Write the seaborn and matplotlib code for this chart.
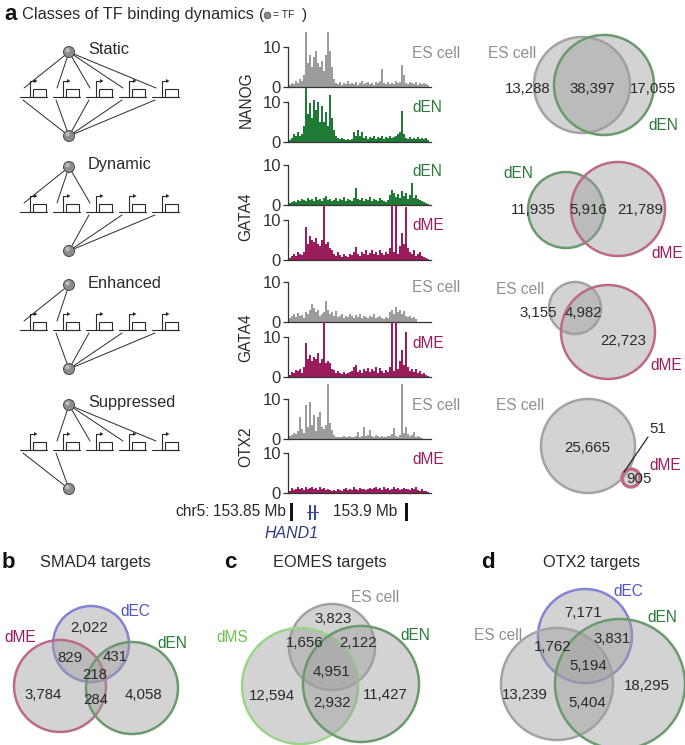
import numpy as np
import pandas as pd
import matplotlib
matplotlib.use('Agg')
import matplotlib.pyplot as plt
from matplotlib.patches import Circle, Rectangle, Polygon
import seaborn as sns

sns.set_style('white')
plt.rcParams['font.family'] = ['Liberation Sans', 'DejaVu Sans']

# ---------------- data ----------------
# signal tracks (70 bins across chr5:153.849-153.910 Mb)
nanog_es = [0.5, 1.0, 0.8, 1.5, 1.0, 2.0, 1.5, 3.0, 13.7, 6.0,
            8.0, 5.0, 7.5, 9.0, 6.0, 5.0, 6.5, 4.0, 8.0, 13.8,
            9.0, 5.0, 2.0, 1.0, 0.8, 1.2, 0.6, 1.0, 0.8, 1.5,
            0.7, 1.0, 0.8, 1.2, 0.6, 1.0, 1.5, 0.8, 1.0, 1.2,
            0.8, 1.0, 0.6, 1.2, 1.0, 1.5, 4.5, 1.0, 0.8, 1.2,
            0.7, 1.0, 0.8, 1.5, 1.0, 1.2, 5.5, 3.0, 1.0, 0.8,
            1.2, 1.0, 0.8, 1.2, 0.6, 1.0, 0.8, 1.0, 0.7, 0.5]
nanog_den = [0.5, 1.0, 2.0, 1.5, 2.5, 1.5, 2.0, 4.0, 13.4, 7.0,
             9.7, 6.0, 10.5, 8.0, 10.0, 5.0, 9.0, 5.0, 7.5, 4.0,
             11.7, 6.0, 3.0, 1.5, 1.0, 0.8, 1.0, 0.8, 0.6, 0.8,
             0.5, 0.8, 2.5, 1.5, 3.0, 1.5, 2.5, 1.0, 1.5, 0.8,
             1.2, 1.0, 1.5, 0.8, 1.2, 1.0, 1.5, 0.8, 1.2, 1.0,
             1.5, 1.0, 1.2, 1.5, 2.0, 2.5, 7.8, 2.0, 1.0, 0.8,
             1.2, 0.8, 1.0, 0.8, 1.2, 0.8, 1.0, 0.8, 1.0, 0.5]
gata4_den = [0.5, 0.8, 1.0, 0.8, 1.2, 1.0, 1.5, 1.2, 1.0, 1.8,
             1.2, 1.5, 1.0, 2.0, 1.2, 1.5, 1.0, 1.8, 2.2, 1.2,
             1.5, 1.0, 1.2, 1.8, 1.0, 1.5, 1.2, 2.0, 1.0, 1.5,
             1.2, 1.0, 1.8, 4.2, 1.5, 1.2, 1.8, 1.0, 1.5, 1.2,
             2.0, 1.0, 1.5, 1.2, 1.0, 1.8, 1.2, 1.0, 0.8, 1.2,
             2.5, 3.7, 3.0, 2.0, 2.8, 1.8, 3.5, 2.2, 3.0, 1.5,
             2.5, 5.4, 1.8, 2.5, 1.5, 1.2, 1.0, 0.8, 0.5, 0.3]
gata4_dme = [0.5, 1.0, 1.5, 1.0, 2.0, 1.5, 1.2, 2.0, 8.3, 4.0,
             6.0, 5.0, 4.5, 5.5, 4.0, 3.5, 5.0, 16.0, 4.0, 4.5,
             3.0, 2.5, 1.5, 1.0, 2.0, 1.2, 0.8, 1.5, 1.0, 0.8,
             1.5, 1.2, 2.0, 3.3, 1.5, 1.0, 2.0, 1.5, 2.5, 1.2,
             1.8, 2.5, 1.5, 2.0, 1.2, 2.5, 1.8, 1.2, 2.0, 1.5,
             3.0, 16.0, 2.0, 16.0, 1.5, 3.5, 6.7, 4.0, 13.3, 3.0,
             2.0, 1.5, 2.5, 1.0, 1.5, 2.0, 1.0, 0.8, 0.5, 0.3]
gata4_es = [1.0, 1.5, 2.0, 1.2, 2.2, 1.5, 1.8, 1.0, 2.5, 2.0,
            3.0, 4.5, 3.5, 2.5, 3.0, 1.5, 2.0, 2.5, 5.3, 3.0,
            2.0, 2.5, 1.5, 2.8, 1.2, 1.5, 2.0, 1.0, 1.5, 1.2,
            2.0, 1.5, 1.0, 1.8, 1.2, 2.0, 1.0, 1.5, 1.2, 1.0,
            1.5, 1.2, 2.0, 1.0, 1.2, 1.5, 1.0, 0.8, 1.2, 1.0,
            2.5, 3.0, 2.0, 3.8, 2.5, 3.0, 2.0, 2.8, 1.5, 1.2,
            1.5, 1.0, 1.2, 0.8, 0.0, 0.0, 0.0, 0.0, 0.0, 0.0]
gata4_dme2 = [0.5, 1.2, 1.0, 1.8, 1.5, 2.0, 1.0, 2.5, 8.4, 4.5,
              5.5, 4.0, 5.0, 4.5, 6.0, 3.5, 4.5, 16.0, 3.5, 4.0,
              3.5, 2.0, 1.8, 1.0, 1.5, 1.0, 0.8, 1.2, 0.8, 1.0,
              1.2, 1.5, 2.5, 3.0, 1.2, 1.8, 1.0, 2.0, 1.5, 2.2,
              1.2, 2.0, 1.5, 2.5, 1.0, 2.2, 1.5, 1.0, 1.8, 1.2,
              2.5, 16.0, 1.5, 16.0, 2.0, 4.0, 6.7, 3.0, 11.3, 2.5,
              1.5, 2.0, 1.2, 2.0, 1.0, 1.5, 0.8, 1.0, 0.5, 0.3]
otx2_es = [0.8, 1.0, 1.5, 1.2, 2.0, 5.6, 2.5, 1.5, 8.5, 3.0,
           9.3, 3.5, 6.0, 2.0, 5.6, 6.8, 3.0, 2.5, 3.5, 16.0,
           4.0, 2.2, 1.0, 0.5, 0.6, 0.4, 0.5, 0.7, 0.5, 0.6,
           0.8, 0.5, 0.6, 0.8, 1.8, 0.6, 0.8, 3.0, 0.7, 1.0,
           2.3, 0.8, 0.6, 1.0, 0.7, 0.5, 0.8, 0.6, 0.5, 0.7,
           0.8, 1.2, 2.7, 0.8, 0.6, 1.0, 16.0, 1.5, 3.0, 1.2,
           0.8, 1.0, 1.8, 0.6, 0.8, 0.5, 0.3, 0.0, 0.0, 0.0]
otx2_dme = [0.6, 1.2, 0.8, 1.0, 1.4, 0.9, 1.2, 0.8, 1.5, 1.0,
            1.3, 1.6, 1.0, 1.2, 0.8, 1.4, 1.0, 1.2, 0.7, 1.0,
            0.8, 0.5, 0.7, 0.6, 1.0, 0.8, 0.6, 0.9, 1.2, 0.7,
            1.0, 0.8, 1.5, 1.0, 0.8, 1.2, 0.9, 1.1, 0.8, 1.0,
            1.3, 0.9, 1.2, 1.5, 1.0, 1.3, 0.8, 1.6, 1.0, 1.2,
            0.8, 1.0, 1.4, 0.9, 1.2, 0.8, 1.0, 1.3, 0.9, 1.1,
            0.7, 1.2, 1.0, 1.4, 0.8, 0.6, 0.9, 0.5, 0.4, 0.3]

tracks = [nanog_es, nanog_den, gata4_den, gata4_dme,
          gata4_es, gata4_dme2, otx2_es, otx2_dme]
track_cells = ['ES cell', 'dEN', 'dEN', 'dME', 'ES cell', 'dME', 'ES cell', 'dME']
track_tfs = ['NANOG', 'GATA4', 'GATA4', 'OTX2']
classes = ['Static', 'Dynamic', 'Enhanced', 'Suppressed']

# venn counts, panel a (left only, overlap, right only)
venn_a_counts = [[13288, 38397, 17055],
                 [11935, 5916, 21789],
                 [3155, 4982, 22723],
                 [25665, 51, 905]]
venn_a_sets = [['ES cell', 'dEN'], ['dEN', 'dME'], ['ES cell', 'dME'], ['ES cell', 'dME']]

# panels b-d
smad4_sets = ['dEC', 'dME', 'dEN']
smad4_counts = [2022, 829, 431, 218, 3784, 284, 4058]
eomes_sets = ['ES cell', 'dMS', 'dEN']
eomes_counts = [3823, 1656, 2122, 4951, 12594, 2932, 11427]
otx2_sets = ['dEC', 'ES cell', 'dEN']
otx2_counts = [7171, 1762, 3831, 5194, 13239, 5404, 18295]

# ---------------- styles ----------------
cell_col = {'ES cell': '#8f8f8f', 'dEN': '#2a7a3b', 'dME': '#9b1c5c',
            'dEC': '#5156c4', 'dMS': '#6cc24a'}
edge_col = {'ES cell': '#a3a3a3', 'dEN': '#6a9a6e', 'dME': '#bd6a88',
            'dEC': '#8285d6', 'dMS': '#9ad68a'}
fill_col = (0.62, 0.62, 0.62, 0.45)
ink = '#2a2a2a'
fs_lab = 11.2     # cell labels, track names
fs_num = 10.8     # venn numbers

W, H = 685, 745
fig = plt.figure(figsize=(W / 100, H / 100), dpi=100)
bg = fig.add_axes([0, 0, 1, 1])
bg.set_xlim(0, W)
bg.set_ylim(H, 0)
bg.axis('off')


def px_axes(x0, y0, x1, y1):
    return fig.add_axes([x0 / W, 1 - y1 / H, (x1 - x0) / W, (y1 - y0) / H])


def mb(px):
    # pixel -> genomic position (153.85 Mb bar at 292 px, 0.05 Mb = 115 px)
    return 153.85 + (px - 292) / 115 * 0.05


# ---------------- panel a header ----------------
bg.text(4, 15, 'a', fontsize=16, fontweight='bold', va='center', color='#111')
bg.text(22, 15, 'Classes of TF binding dynamics', fontsize=11.8, va='center', color=ink)
bg.text(259, 15, '(', fontsize=11, va='center', color=ink)
bg.add_patch(Circle((267.5, 15.5), 3.3, fc='#8a8a8a', ec='#555', lw=0.6))
bg.text(273, 15.5, '= TF', fontsize=7.5, va='center', color=ink)
bg.text(302, 15, ')', fontsize=11, va='center', color=ink)


# ---------------- binding diagrams ----------------
def node(x, y):
    bg.add_patch(Circle((x, y), 5.5, fc='#8c8c8c', ec='#4a4a4a', lw=0.7, zorder=5))
    bg.add_patch(Circle((x - 1.5, y - 1.8), 2.2, fc='#c9c9c9', ec='none', alpha=0.8, zorder=6))


def gene(x0, base):
    bg.plot([x0, x0 + 27], [base, base], color=ink, lw=0.8)
    bg.plot([x0 + 10, x0 + 10, x0 + 14], [base, base - 16, base - 16], color=ink, lw=0.8)
    bg.add_patch(Polygon([(x0 + 14, base - 18), (x0 + 17.5, base - 16), (x0 + 14, base - 14)],
                         closed=True, fc=ink, ec='none'))
    bg.add_patch(Rectangle((x0 + 13, base - 8), 13, 8, fill=False, ec=ink, lw=0.8))


row_tops = [52, 167, 285, 405]
top_links = [[0, 1, 2, 3, 4], [0, 1, 2], [0, 1], [1, 2, 3, 4]]
bottom_links = [[0, 1, 2, 3, 4], [2, 3, 4], [1, 2, 3, 4], [0, 1]]
node_x = 69
for r, top in enumerate(row_tops):
    base = top + 45
    bottom = top + 84
    gene_x = [20 + 33 * g for g in range(5)]
    for gx in gene_x:
        gene(gx, base)
    for g in top_links[r]:
        bg.plot([node_x, gene_x[g] + 4], [top, base - 9], color=ink, lw=0.7)
    for g in bottom_links[r]:
        bg.plot([node_x, gene_x[g] + 3], [bottom, base + 3], color=ink, lw=0.7)
    node(node_x, top)
    node(node_x, bottom)
    bg.text(88, top - 2, classes[r], fontsize=11.8, va='center', color=ink)

# ---------------- signal tracks ----------------
track_base = [87, 142, 205, 260, 322, 377, 439, 493]
n_bins = len(nanog_es)
edges = np.linspace(mb(289), mb(429), n_bins + 1)
centers = (edges[:-1] + edges[1:]) / 2
track_fill = {'ES cell': '#9c9c9c', 'dEN': '#1f7a35', 'dME': '#9b1c5c'}

for i, vals in enumerate(tracks):
    base = track_base[i]
    ax = px_axes(288, base - 55, 431, base)
    ax.patch.set_alpha(0)
    sig = pd.DataFrame({'pos': centers, 'signal': vals})
    sns.histplot(data=sig, x='pos', weights='signal', bins=n_bins,
                 binrange=(mb(289), mb(429)), element='step', fill=True,
                 color=track_fill[track_cells[i]], alpha=1, linewidth=0, ax=ax)
    ax.set_xlim(mb(288), mb(431))
    ax.set_ylim(0, 13.75)
    ax.set_xlabel('')
    ax.set_ylabel('')
    ax.set_xticks([])
    ax.set_yticks([0, 10])
    ax.tick_params(axis='y', left=True, length=3.5, width=0.9, pad=1.5,
                   labelsize=12, colors='#333')
    sns.despine(ax=ax)
    ax.spines['left'].set_bounds(0, 10)
    for s in ('left', 'bottom'):
        ax.spines[s].set_color('#333')
        ax.spines[s].set_linewidth(0.9)
    bg.text(412, base - 34, track_cells[i], fontsize=fs_lab, va='center',
            color=cell_col[track_cells[i]])

tf_label_y = [100, 217, 338, 447]
for tf, y in zip(track_tfs, tf_label_y):
    bg.text(246, y, tf, fontsize=fs_lab, rotation=90, ha='center', va='center', color=ink)

# coordinate row
bg.text(210, 512, 'chr5:', fontsize=fs_lab, ha='right', va='center', color=ink)
bg.text(213, 512, '153.85 Mb', fontsize=fs_lab, va='center', color=ink)
bg.text(333, 512, '153.9 Mb', fontsize=fs_lab, va='center', color=ink)
for bx in (292, 407):
    bg.add_patch(Rectangle((bx - 1.5, 503), 3, 18, fc='#111', ec='none'))
bg.plot([307, 318], [512, 512], color='#3a4a9a', lw=0.8)
for hx in (309, 314):
    bg.add_patch(Rectangle((hx, 505), 2.2, 15, fc='#3a4a9a', ec='none'))
bg.text(292, 533, 'HAND1', fontsize=11.4, style='italic', ha='center', va='center',
        color='#2c3a85')


# ---------------- venn diagrams ----------------
def circle(x, y, r, s, lw=1.8):
    bg.add_patch(Circle((x, y), r, fc=fill_col, ec=edge_col[s], lw=lw))


venn_a_circles = [[(582, 85, 48), (604, 85, 50)],
                  [(566, 210, 38), (618, 209, 47)],
                  [(575, 308, 26), (608, 332, 47)],
                  [(588, 446, 47), (631, 478, 9)]]
venn_a_num_pos = [[(528, 89), (592, 89), (653, 89)],
                  [(533, 210), (588, 210), (640, 210)],
                  [(538, 313), (583, 313), (623, 341)],
                  [(587, 448), (658, 429), (639, 479)]]
venn_a_lab_pos = [[(512, 53), (663, 125)],
                  [(518, 173), (667, 253)],
                  [(520, 290), (666, 366)],
                  [(520, 406), (665, 465)]]

for k in range(4):
    for (x, y, r), s in zip(venn_a_circles[k], venn_a_sets[k]):
        circle(x, y, r, s, lw=2.4 if r < 15 else 1.8)
    for n, (x, y) in zip(venn_a_counts[k], venn_a_num_pos[k]):
        bg.text(x, y, f'{n:,}', fontsize=fs_num, ha='center', va='center', color=ink)
    for s, (x, y) in zip(venn_a_sets[k], venn_a_lab_pos[k]):
        bg.text(x, y, s, fontsize=fs_lab, ha='center', va='center', color=cell_col[s])
bg.plot([648, 624], [437, 472], color='#222', lw=0.9)

panels = [
    ('b', 'SMAD4 targets', (8, 562), (95, 563), smad4_sets, smad4_counts,
     [(91, 644, 38), (60, 686, 46), (132, 688, 46)],
     [(135, 612), (20, 638), (172, 644)],
     [(89, 628), (70, 658), (115, 657), (95, 675), (43, 695), (96, 700), (143, 695)]),
    ('c', 'EOMES targets', (230, 563), (330, 563), eomes_sets, eomes_counts,
     [(332, 647, 43), (300, 686, 58), (361, 684, 58)],
     [(375, 597), (232, 637), (415, 636)],
     [(333, 619), (305, 643), (358, 643), (332, 672), (272, 696), (332, 703), (385, 695)]),
    ('d', 'OTX2 targets', (488, 563), (592, 563), otx2_sets, otx2_counts,
     [(585, 636, 47), (557, 684, 56), (620, 684, 65)],
     [(628, 592), (498, 635), (662, 617)],
     [(583, 613), (553, 647), (612, 639), (588, 666), (525, 695), (587, 703), (647, 686)]),
]
for letter, title, lpos, tpos, sets, counts, circs, labpos, numpos in panels:
    bg.text(lpos[0], lpos[1], letter, fontsize=16, fontweight='bold', ha='center',
            va='center', color='#111')
    bg.text(tpos[0], tpos[1], title, fontsize=11.8, ha='center', va='center', color=ink)
    for (x, y, r), s in zip(circs, sets):
        circle(x, y, r, s)
    for s, (x, y) in zip(sets, labpos):
        bg.text(x, y, s, fontsize=fs_lab, ha='center', va='center', color=cell_col[s])
    for n, (x, y) in zip(counts, numpos):
        bg.text(x, y, f'{n:,}', fontsize=fs_num, ha='center', va='center', color=ink)

fig.savefig('out.png', dpi=100)
